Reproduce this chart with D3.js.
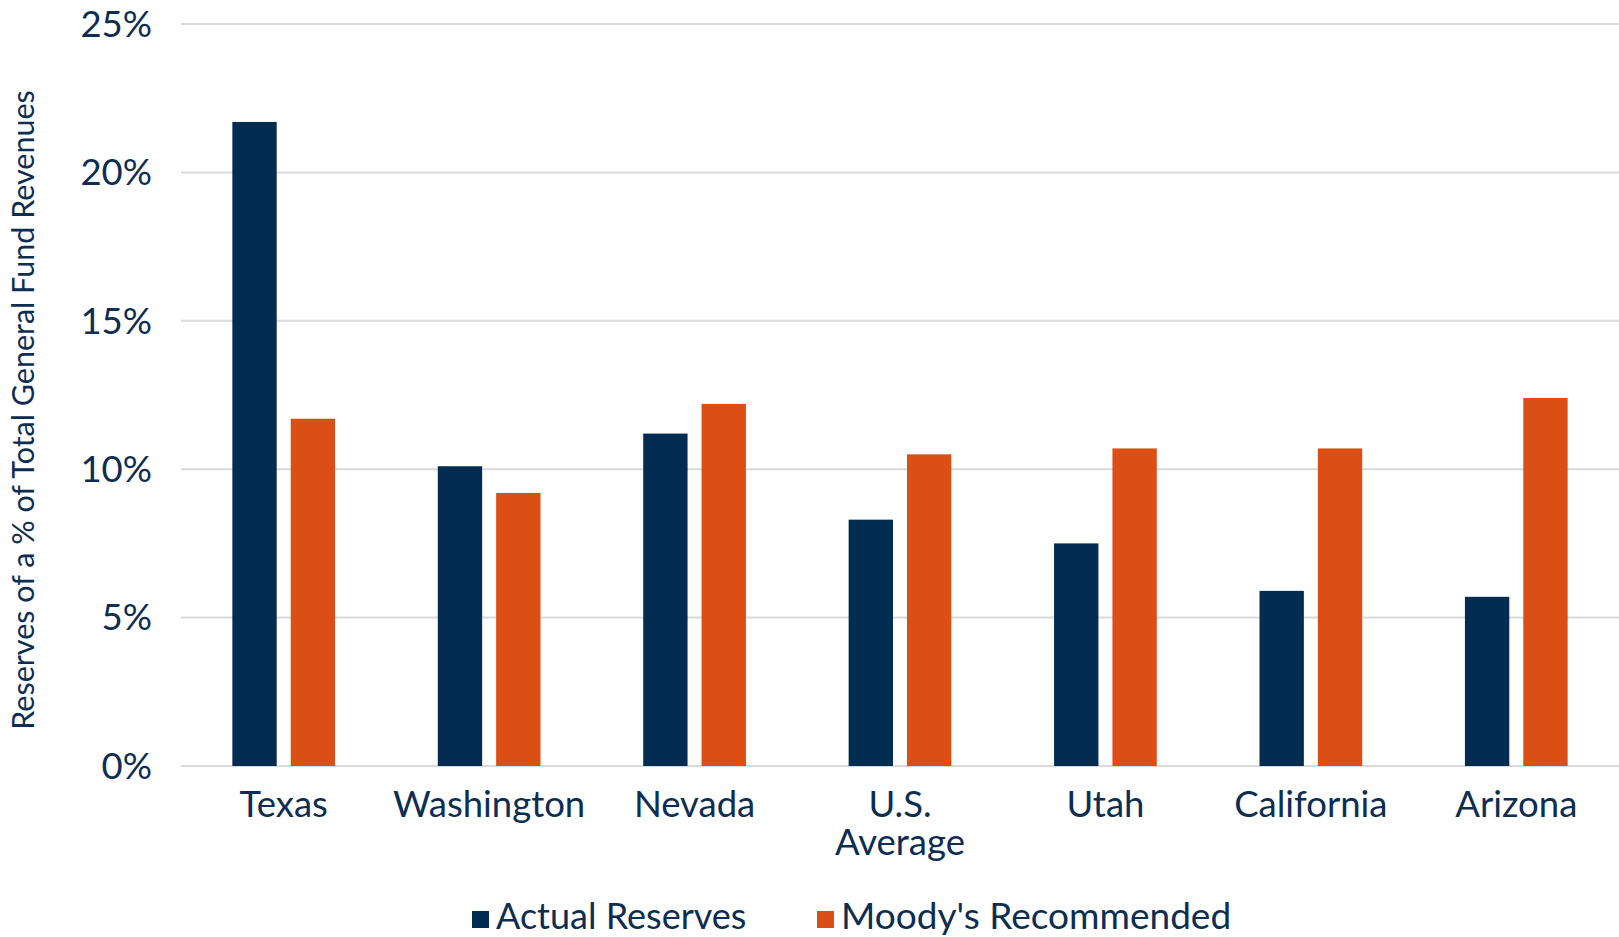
<!DOCTYPE html>
<meta charset="utf-8">
<style>
body { margin: 0; background: #fff; }
text { font-family: Lato, "Open Sans", sans-serif; fill: #0d2d52; }
.grid line { stroke: #d9d9d9; stroke-width: 2px; }
</style>
<svg width="1619" height="937"></svg>
<script src="https://cdn.jsdelivr.net/npm/d3@7"></script>
<script>

var states = ["Texas", "Washington", "Nevada", "U.S. Average", "Utah", "California", "Arizona"];
var seriesNames = ["Actual Reserves", "Moody's Recommended"];
var actual = [21.7, 10.1, 11.2, 8.3, 7.5, 5.9, 5.7];
var moodys = [11.7, 9.2, 12.2, 10.5, 10.7, 10.7, 12.4];
var yTicks = [0, 5, 10, 15, 20, 25];

var colors = ["#022c52", "#db4f14"];

var svg = d3.select("svg"),
    width = +svg.attr("width"),
    height = +svg.attr("height");

var plotLeft = 181, plotRight = 1619, plotTop = 24, plotBottom = 766;

var x0 = d3.scaleBand()
    .domain(states)
    .range([plotLeft, plotRight])
    .paddingInner(0.5)
    .paddingOuter(0.25);

var x1 = d3.scaleBand()
    .domain(seriesNames)
    .range([0, x0.bandwidth()])
    .paddingInner(0.24);

var y = d3.scaleLinear()
    .domain([0, 25])
    .range([plotBottom, plotTop]);

// gridlines
svg.append("g")
    .attr("class", "grid")
    .selectAll("line")
    .data(yTicks)
    .enter().append("line")
    .attr("x1", plotLeft)
    .attr("x2", plotRight)
    .attr("y1", function(d) { return y(d); })
    .attr("y2", function(d) { return y(d); });

// y tick labels
svg.append("g")
    .selectAll("text")
    .data(yTicks)
    .enter().append("text")
    .attr("x", 152)
    .attr("y", function(d) { return y(d); })
    .attr("dy", "0.35em")
    .attr("text-anchor", "end")
    .attr("font-size", "36.5px")
    .text(function(d) { return d + "%"; });

var rows = states.map(function(s, i) {
  return { state: s, values: [actual[i], moodys[i]] };
});

var groups = svg.append("g")
    .selectAll("g")
    .data(rows)
    .enter().append("g")
    .attr("transform", function(d) { return "translate(" + x0(d.state) + ",0)"; });

groups.selectAll("rect")
    .data(function(d) { return d.values.map(function(v, j) { return { key: seriesNames[j], value: v, j: j }; }); })
    .enter().append("rect")
    .attr("x", function(d) { return x1(d.key); })
    .attr("width", x1.bandwidth())
    .attr("y", function(d) { return y(d.value); })
    .attr("height", function(d) { return y(0) - y(d.value); })
    .attr("fill", function(d) { return colors[d.j]; });

// x labels
var xl = svg.append("g")
    .selectAll("text")
    .data(states)
    .enter().append("text")
    .attr("x", function(d) { return x0(d) + x0.bandwidth() / 2; })
    .attr("y", 817)
    .attr("text-anchor", "middle")
    .attr("font-size", "36.5px");

xl.each(function(d) {
  var t = d3.select(this);
  var parts = d == "U.S. Average" ? ["U.S.", "Average"] : [d];
  parts.forEach(function(p, i) {
    t.append("tspan")
      .attr("x", x0(d) + x0.bandwidth() / 2)
      .attr("dy", i == 0 ? 0 : 38)
      .text(p);
  });
});

// y axis title
svg.append("text")
    .attr("transform", "translate(34," + 410 + ") rotate(-90)")
    .attr("text-anchor", "middle")
    .attr("font-size", "30.5px")
    .text("Reserves of a % of Total General Fund Revenues");

// legend
var legendX = [472, 817];
var legend = svg.selectAll(".legend")
    .data(seriesNames)
    .enter().append("g")
    .attr("class", "legend");

legend.append("rect")
    .attr("x", function(d, i) { return legendX[i]; })
    .attr("y", 911)
    .attr("width", 17)
    .attr("height", 17)
    .attr("fill", function(d, i) { return colors[i]; });

legend.append("text")
    .attr("x", function(d, i) { return legendX[i] + 24; })
    .attr("y", 929)
    .attr("font-size", function(d, i) { return i == 0 ? "36px" : "37px"; })
    .text(function(d) { return d; });

</script>
